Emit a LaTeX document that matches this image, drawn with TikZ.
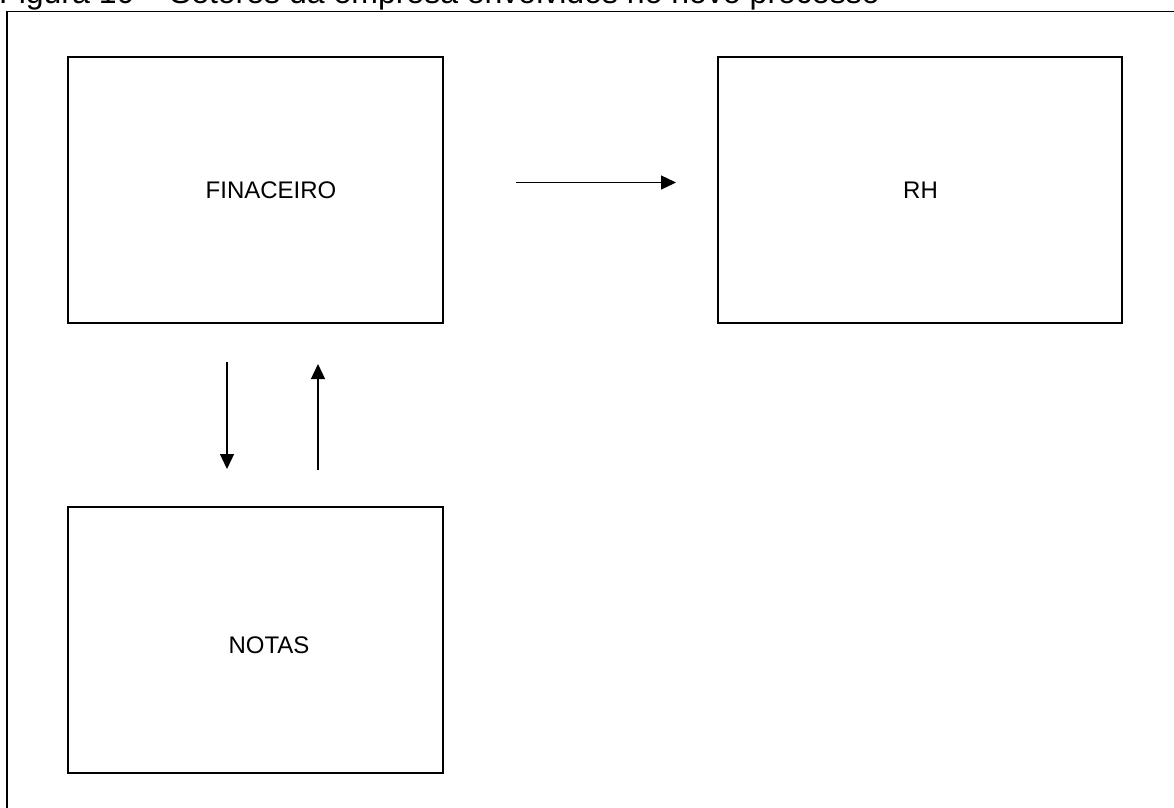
\documentclass[tikz,border=0pt]{standalone}
\usepackage{fontspec}
\setmainfont{Liberation Sans}
\usetikzlibrary{arrows.meta}
\tikzset{
  sector/.style={draw, line width=2pt, minimum width=375pt, minimum height=266pt, inner sep=0pt},
  label/.style={font=\fontsize{24pt}{28pt}\selectfont, anchor=base, inner sep=0pt},
  flow/.style={line width=1.3pt, -{Triangle[length=15pt,width=14pt]}},
}
\begin{document}
\begin{tikzpicture}[x=1pt,y=-1pt]
\useasboundingbox (0,0) rectangle (1174,807);
\fill[white] (0,0) rectangle (1174,807);
\node[anchor=base west, inner sep=0pt, font=\fontsize{32pt}{36pt}\selectfont] (title) at (-1,3) {Figura 10 – Setores da empresa envolvidos no novo processo};
\draw[line width=1.6pt] (1200,11.5) -- (7,11.5) -- (7,830);
\node[sector] (fin) at (255.5,190) {};
\node[sector, minimum width=404pt] (rh) at (920,190) {};
\node[sector] (notas) at (255.5,640) {};
\node[label] (tfin) at (271,198) {FINACEIRO};
\node[label] (trh) at (920.5,198) {RH};
\node[label] (tnotas) at (269,653) {NOTAS};
\coordinate (h1) at (516,182.5);
\coordinate (h2) at (676,182.5);
\coordinate (d1) at (227,362);
\coordinate (d2) at (227,469);
\coordinate (u1) at (318,470);
\coordinate (u2) at (318,364);
\draw[flow] (h1) -- (h2);
\draw[flow] (d1) -- (d2);
\draw[flow] (u1) -- (u2);
\end{tikzpicture}
\end{document}
